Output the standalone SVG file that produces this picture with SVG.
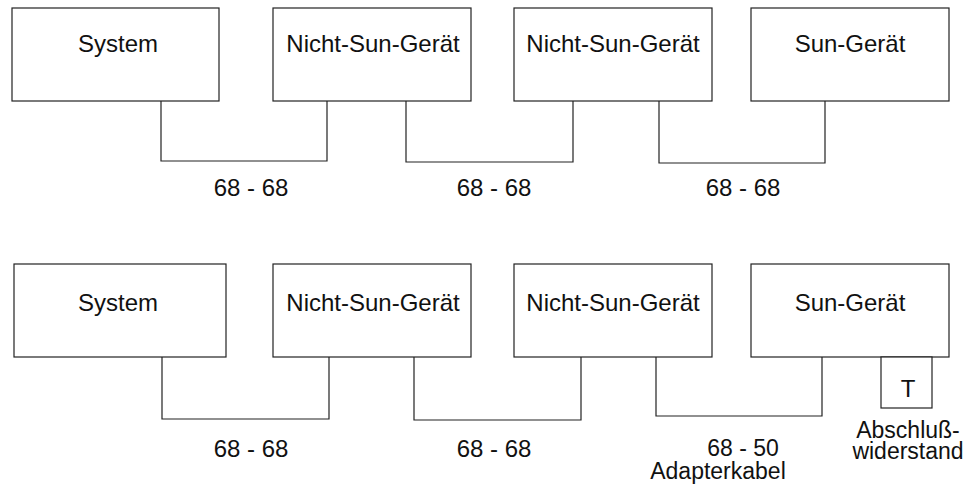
<svg xmlns="http://www.w3.org/2000/svg" width="970" height="487" viewBox="0 0 970 487">
<style>
.box{fill:#fff;stroke:#222;stroke-width:1.2}
.wire{fill:none;stroke:#222;stroke-width:1.2}
text{font-family:"Liberation Sans",Arial,sans-serif;font-size:24px;fill:#111;text-anchor:middle}
.sm{font-size:23px}
</style>
<rect width="970" height="487" fill="#fff"/>
<g id="connectors">
<polyline class="wire" points="161,101 161,161 327,161 327,101"/>
<polyline class="wire" points="406,101 406,162 573,162 573,101"/>
<polyline class="wire" points="659,101 659,163 825,163 825,101"/>
<polyline class="wire" points="162,357 162,419 329,419 329,357"/>
<polyline class="wire" points="414,357 414,420 581,420 581,357"/>
<polyline class="wire" points="656,357 656,416 822,416 822,357"/>
</g>
<g id="top-system"><rect class="box" x="12" y="8" width="207" height="93"/><text x="118" y="52">System</text></g>
<g id="top-nonsun1"><rect class="box" x="273" y="8" width="198" height="93"/><text x="373" y="52">Nicht-Sun-Gerät</text></g>
<g id="top-nonsun2"><rect class="box" x="514" y="8" width="198" height="93"/><text x="613" y="52">Nicht-Sun-Gerät</text></g>
<g id="top-sun"><rect class="box" x="751" y="8" width="198" height="93"/><text x="850" y="52">Sun-Gerät</text></g>
<g id="top-labels">
<text x="251" y="196">68 - 68</text>
<text x="494" y="196">68 - 68</text>
<text x="743" y="196">68 - 68</text>
</g>
<g id="bot-system"><rect class="box" x="14" y="264" width="212" height="93"/><text x="118" y="311">System</text></g>
<g id="bot-nonsun1"><rect class="box" x="273" y="264" width="198" height="93"/><text x="373" y="311">Nicht-Sun-Gerät</text></g>
<g id="bot-nonsun2"><rect class="box" x="514" y="264" width="198" height="93"/><text x="613" y="311">Nicht-Sun-Gerät</text></g>
<g id="bot-sun"><rect class="box" x="751" y="264" width="198" height="93"/><text x="850" y="311">Sun-Gerät</text></g>
<g id="terminator"><rect class="box" x="881" y="357" width="51" height="51"/><text x="908" y="397">T</text></g>
<g id="bot-labels">
<text x="251" y="457">68 - 68</text>
<text x="494" y="457">68 - 68</text>
<text class="sm" x="743" y="456">68 - 50</text>
<text class="sm" x="718" y="479">Adapterkabel</text>
<text class="sm" x="908" y="438">Abschluß-</text>
<text class="sm" x="908" y="459">widerstand</text>
</g>
</svg>
